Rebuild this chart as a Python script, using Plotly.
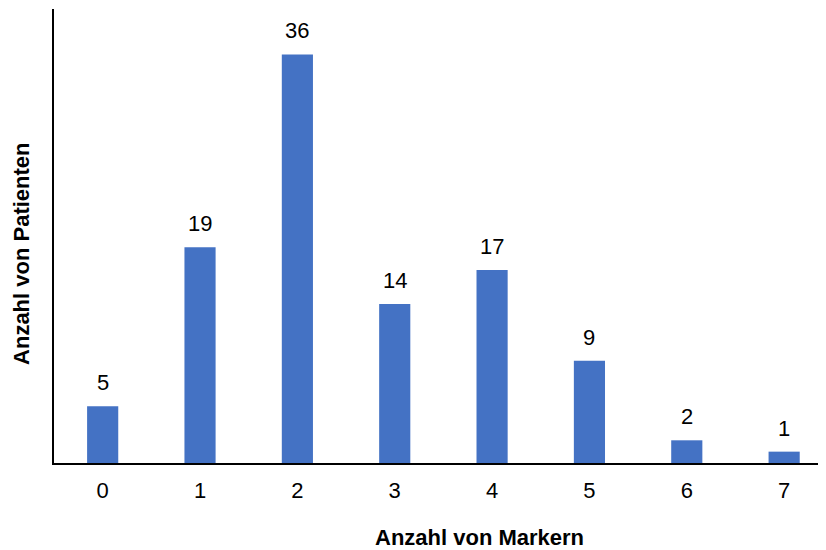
import plotly.graph_objects as go

categories = [0, 1, 2, 3, 4, 5, 6, 7]
patients = [5, 19, 36, 14, 17, 9, 2, 1]

FONT = "Liberation Sans, Arial, sans-serif"
FS = 22

# The page body has an 8px default margin; size the figure so the visible
# 826x550 window holds it exactly.
W, H = 818, 542

fig = go.Figure(go.Bar(
    x=categories,
    y=patients,
    marker=dict(color="#4472C4", line=dict(width=0)),
    width=0.32,
    cliponaxis=False,
))

for c, v in zip(categories, patients):
    fig.add_annotation(
        x=c, y=v, text=str(v), showarrow=False,
        yanchor="bottom", yshift=9,
        font=dict(family=FONT, size=FS, color="#000000"),
    )

# axis titles (placed like the reference, off-centre)
fig.add_annotation(
    xref="paper", yref="paper", x=0.5518, y=-0.165,
    xanchor="center", yanchor="middle", showarrow=False,
    text="<b>Anzahl von Markern</b>",
    font=dict(family=FONT, size=FS, color="#000000"),
)
fig.add_annotation(
    xref="paper", yref="paper", x=-0.0415, y=0.4604,
    xanchor="center", yanchor="middle", showarrow=False, textangle=-90,
    text="<b>Anzahl von Patienten</b>",
    font=dict(family=FONT, size=FS, color="#000000"),
)

fig.update_layout(
    width=W, height=H,
    margin=dict(l=46, r=0, t=1, b=87, autoexpand=False),
    paper_bgcolor="white", plot_bgcolor="white",
    showlegend=False,
    font=dict(family=FONT, size=FS, color="#000000"),
    xaxis=dict(
        range=[-0.5, 7.43],
        tickmode="array", tickvals=categories, ticktext=[str(c) for c in categories],
        showline=True, linecolor="#000000", linewidth=2,
        showgrid=False, zeroline=False, ticks="",
        automargin=False,
        ticklabelstandoff=7,
        tickfont=dict(family=FONT, size=FS, color="#000000"),
    ),
    yaxis=dict(
        range=[0, 40],
        showline=True, linecolor="#000000", linewidth=2,
        showgrid=False, zeroline=False, ticks="", showticklabels=False,
        automargin=False,
    ),
)

fig.write_html("out.html")
